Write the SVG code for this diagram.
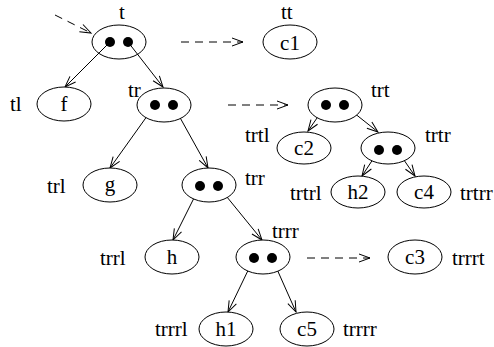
<svg xmlns="http://www.w3.org/2000/svg" width="494" height="347" viewBox="0 0 494 347">
<defs>
<marker id="ah" markerUnits="userSpaceOnUse" markerWidth="16" markerHeight="12" viewBox="-13 -6 16 12" refX="0" refY="0" orient="auto">
<path d="M-11,-4 L0,0 L-11,4" fill="none" stroke="#000" stroke-width="1"/>
</marker>
</defs>
<style>
.n{fill:#fff;stroke:#000;stroke-width:1}
.d{fill:#000}
.e{stroke:#000;stroke-width:1;fill:none;marker-end:url(#ah)}
.ds{stroke-dasharray:8 6}
text{font-family:"Liberation Serif","Times New Roman",serif;fill:#000}
.l{font-size:21px}
.v{font-size:21px;text-anchor:middle}
</style>
<rect width="494" height="347" fill="#fff"/>
<g id="connectors">
<line class="e ds" x1="55" y1="15" x2="91" y2="33"/>
<line class="e ds" x1="181" y1="42" x2="243" y2="42"/>
<line class="e ds" x1="228" y1="105" x2="288" y2="105"/>
<line class="e ds" x1="307" y1="258" x2="370" y2="258"/>
<line class="e" x1="110" y1="42" x2="65" y2="87"/>
<line class="e" x1="128" y1="42" x2="163" y2="87"/>
<line class="e" x1="155" y1="105" x2="110" y2="168"/>
<line class="e" x1="173" y1="105" x2="208" y2="168"/>
<line class="e" x1="200" y1="186" x2="173" y2="240"/>
<line class="e" x1="218" y1="186" x2="262" y2="240"/>
<line class="e" x1="254" y1="258" x2="228" y2="312"/>
<line class="e" x1="272" y1="258" x2="296" y2="312"/>
<line class="e" x1="326" y1="105" x2="308" y2="131"/>
<line class="e" x1="344" y1="105" x2="378" y2="132"/>
<line class="e" x1="379" y1="150" x2="362" y2="176"/>
<line class="e" x1="397" y1="150" x2="415" y2="176"/>
</g>
<g id="t">
<ellipse class="n" cx="119" cy="42" rx="27" ry="17" fill-opacity="0"/>
<circle class="d" cx="110" cy="42" r="5"/><circle class="d" cx="128" cy="42" r="5"/>
<text class="l" x="119" y="19">t</text>
</g>
<g id="tt">
<ellipse class="n" cx="290" cy="42" rx="27" ry="17"/>
<text class="v" x="290" y="50">c1</text>
<text class="l" x="281" y="19">tt</text>
</g>
<g id="tl">
<ellipse class="n" cx="64" cy="104" rx="27" ry="17"/>
<text class="v" x="64" y="111">f</text>
<text class="l" x="10" y="111">tl</text>
</g>
<g id="tr">
<ellipse class="n" cx="164" cy="105" rx="27" ry="17"/>
<circle class="d" cx="155" cy="105" r="5"/><circle class="d" cx="173" cy="105" r="5"/>
<text class="l" x="128" y="97">tr</text>
</g>
<g id="trt">
<ellipse class="n" cx="335" cy="105" rx="27" ry="17"/>
<circle class="d" cx="326" cy="105" r="5"/><circle class="d" cx="344" cy="105" r="5"/>
<text class="l" x="371" y="97">trt</text>
</g>
<g id="trl">
<ellipse class="n" cx="110" cy="185" rx="27" ry="17"/>
<text class="v" x="110" y="191">g</text>
<text class="l" x="47" y="193">trl</text>
</g>
<g id="trr">
<ellipse class="n" cx="209" cy="185" rx="27" ry="17"/>
<circle class="d" cx="200" cy="186" r="5"/><circle class="d" cx="218" cy="186" r="5"/>
<text class="l" x="245" y="185">trr</text>
</g>
<g id="trtl">
<ellipse class="n" cx="304" cy="148" rx="27" ry="16"/>
<text class="v" x="304" y="155">c2</text>
<text class="l" x="245" y="142">trtl</text>
</g>
<g id="trtr">
<ellipse class="n" cx="388" cy="148" rx="27" ry="16"/>
<circle class="d" cx="379" cy="150" r="5"/><circle class="d" cx="397" cy="150" r="5"/>
<text class="l" x="425" y="142">trtr</text>
</g>
<g id="trtrl">
<ellipse class="n" cx="358" cy="192" rx="27" ry="16"/>
<text class="v" x="358" y="199">h2</text>
<text class="l" x="290" y="200">trtrl</text>
</g>
<g id="trtrr">
<ellipse class="n" cx="424" cy="192" rx="27" ry="16"/>
<text class="v" x="424" y="199">c4</text>
<text class="l" x="460" y="200">trtrr</text>
</g>
<g id="trrl">
<ellipse class="n" cx="172" cy="257" rx="27" ry="17"/>
<text class="v" x="172" y="264">h</text>
<text class="l" x="100" y="265">trrl</text>
</g>
<g id="trrr">
<ellipse class="n" cx="263" cy="257" rx="27" ry="17"/>
<circle class="d" cx="254" cy="258" r="5"/><circle class="d" cx="272" cy="258" r="5"/>
<text class="l" x="272" y="238">trrr</text>
</g>
<g id="trrrt">
<ellipse class="n" cx="415" cy="257" rx="27" ry="17"/>
<text class="v" x="415" y="264">c3</text>
<text class="l" x="452" y="265">trrrt</text>
</g>
<g id="trrrl">
<ellipse class="n" cx="226" cy="329" rx="27" ry="17"/>
<text class="v" x="226" y="336">h1</text>
<text class="l" x="155" y="336">trrrl</text>
</g>
<g id="trrrr">
<ellipse class="n" cx="307" cy="329" rx="27" ry="17"/>
<text class="v" x="307" y="336">c5</text>
<text class="l" x="343" y="336">trrrr</text>
</g>
</svg>
